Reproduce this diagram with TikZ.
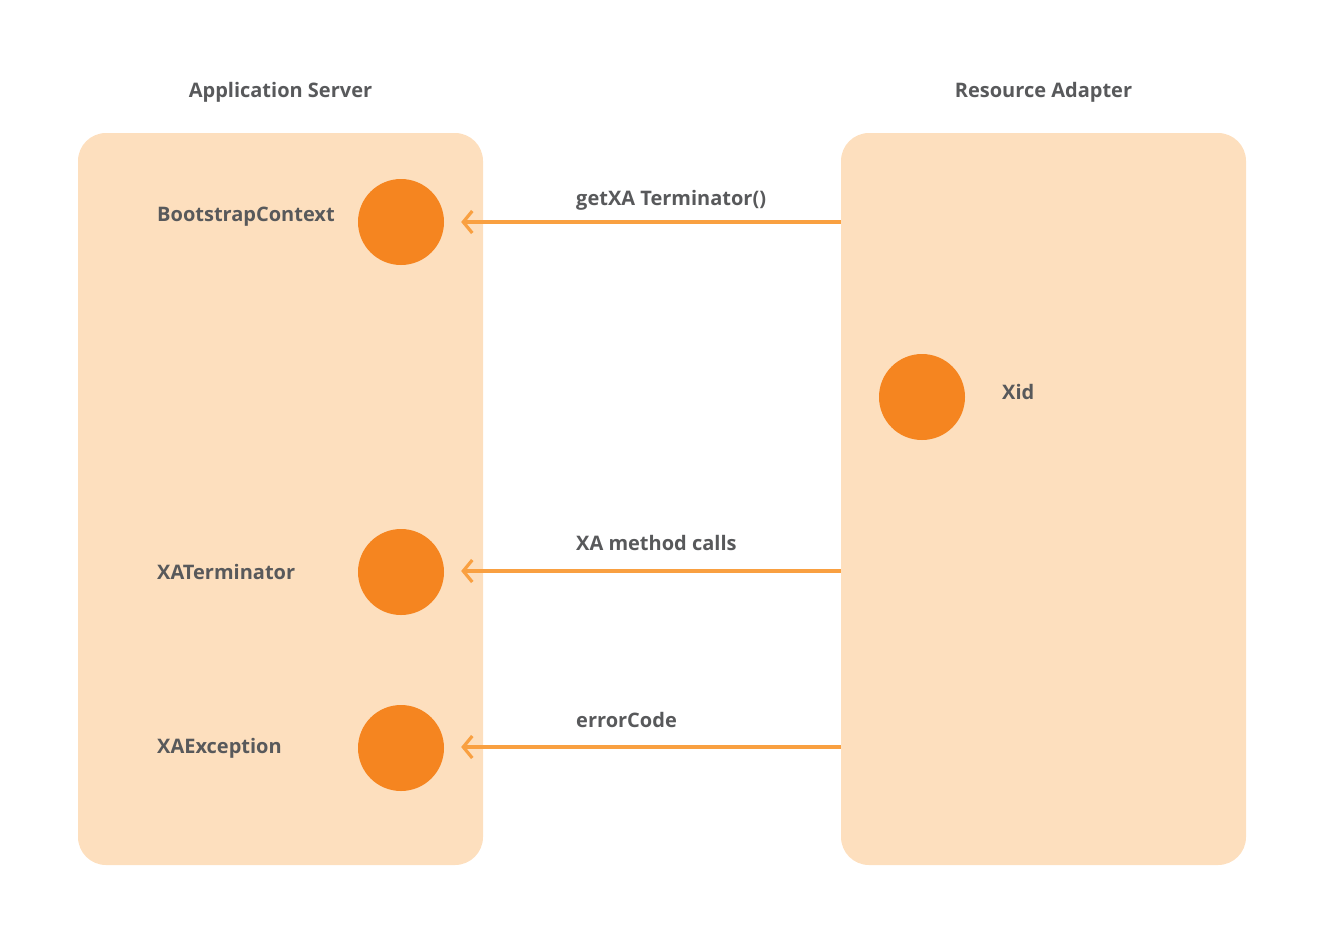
\documentclass[tikz,border=0pt]{standalone}
\usepackage{fontspec}
\setmainfont{Open Sans}[BoldFont={Open Sans Bold}]
\usetikzlibrary{arrows.meta,calc}
\definecolor{boxfill}{HTML}{FDDFBE}
\definecolor{dot}{HTML}{F58520}
\definecolor{arrc}{HTML}{F9A041}
\definecolor{txt}{HTML}{58595B}
\tikzset{
  panel/.style={fill=boxfill,draw=none,rounded corners=28,minimum width=405,minimum height=732,inner sep=0},
  dotnode/.style={circle,fill=dot,draw=none,minimum size=86,inner sep=0},
  lbl/.style={text=txt,font=\bfseries\fontsize{20}{22}\selectfont,inner sep=0,anchor=west},
  ttl/.style={text=txt,font=\bfseries\fontsize{20}{22}\selectfont,inner sep=0},
  arr/.style={draw=arrc,line width=3.2,-{Straight Barb[length=9,width=22,line width=3.2]}}
}
\begin{document}
\begin{tikzpicture}[x=1pt,y=-1pt]
\useasboundingbox (0,0) rectangle (1324,946);
\node[panel] (as) at (280.5,499) {};
\node[panel] (ra) at (1043.5,499) {};
\node[ttl] (tas) at (280.5,92) {Application Server};
\node[ttl] (tra) at (1043.5,92) {Resource Adapter};
\node[dotnode] (c1) at (401,222) {};
\node[dotnode] (c2) at (401,572) {};
\node[dotnode] (c3) at (401,748) {};
\node[dotnode] (c4) at (922,397) {};
\node[lbl] (l1) at (157,217) {BootstrapContext};
\node[lbl] (l2) at (157,572) {XATerminator};
\node[lbl] (l3) at (157,748) {XAException};
\node[lbl] (l4) at (1002,392) {Xid};
\coordinate (e1) at ($(c1.east)+(17,0)$);
\coordinate (e2) at ($(c2.east)+(17,-1)$);
\coordinate (e3) at ($(c3.east)+(17,-1)$);
\draw[arr] (ra.west |- e1) -- (e1);
\draw[arr] (ra.west |- e2) -- (e2);
\draw[arr] (ra.west |- e3) -- (e3);
\node[lbl] (m1) at (576,200) {getXA Terminator()};
\node[lbl] (m2) at (576,543) {XA method calls};
\node[lbl] (m3) at (576,720) {errorCode};
\end{tikzpicture}
\end{document}
